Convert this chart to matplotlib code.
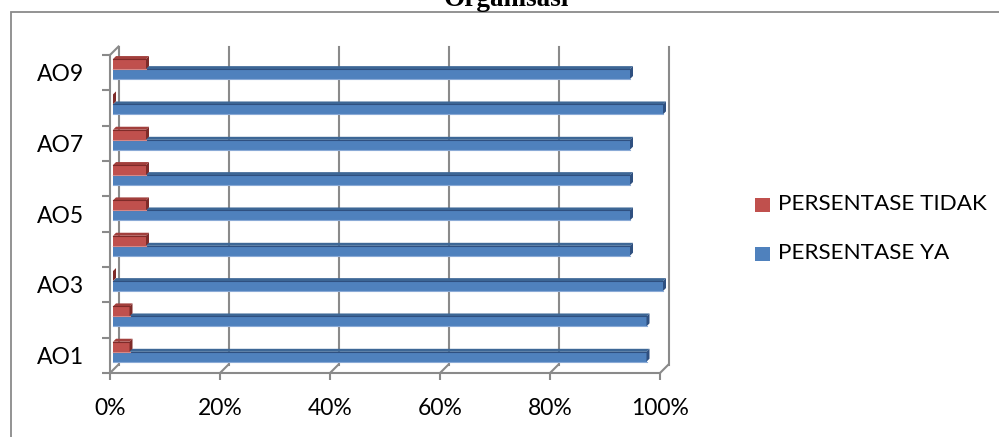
import matplotlib.pyplot as plt
from matplotlib.patches import Polygon, Rectangle

# data
labels = ['AO1', 'AO2', 'AO3', 'AO4', 'AO5', 'AO6', 'AO7', 'AO8', 'AO9']
persen_ya = [97, 97, 100, 94, 94, 94, 94, 100, 94]
persen_tidak = [3, 3, 0, 6, 6, 6, 6, 0, 6]
xticks = [0, 20, 40, 60, 80, 100]
series_names = ['PERSENTASE TIDAK', 'PERSENTASE YA']

plt.rcParams['font.family'] = ['Lato', 'DejaVu Sans']

W, H = 999, 437
fig = plt.figure(figsize=(W / 100, H / 100), dpi=100)

# plot area in pixels (front plane)
left, right, top, bottom = 110, 660, 55, 373
ax = fig.add_axes([left / W, 1 - bottom / H, (right - left) / W, (bottom - top) / H])
n = len(labels)
ax.set_xlim(0, 100)
ax.set_ylim(0, n)

# pixel -> data unit scales
px_x = 100 / (right - left)
px_y = n / (bottom - top)

grey = '#8a8a8a'
wall = 8.5  # depth of the back wall, px

# back wall gridlines with diagonal foot
for x in xticks:
    bx, by = x + wall * px_x, wall * px_y
    ax.plot([bx, bx], [by, n + by], color=grey, lw=1.5, clip_on=False, zorder=1)
    ax.plot([x, bx], [0, by], color=grey, lw=1.5, clip_on=False, zorder=1)
# left wall front edge + top diagonal, floor front edge
ax.plot([0, 0], [0, n], color=grey, lw=1.5, clip_on=False, zorder=1)
ax.plot([0, wall * px_x], [n, n + wall * px_y], color=grey, lw=1.5, clip_on=False, zorder=1)
ax.plot([0, 100], [0, 0], color=grey, lw=1.5, clip_on=False, zorder=1)


def bar3d(yc, value, h, face, top_c, side_c, low_c, off=3.0, depth=3.0):
    ox, oy = off * px_x, off * px_y
    dx, dy = depth * px_x, depth * px_y
    x0, y0 = ox, yc - h / 2 + oy
    x1, y1 = x0 + value, y0 + h
    ax.add_patch(Rectangle((x0, y0), value, h, facecolor=face, edgecolor='none',
                           clip_on=False, zorder=3))
    ax.add_patch(Polygon([(x0, y1), (x1, y1), (x1 + dx, y1 + dy), (x0 + dx, y1 + dy)],
                         facecolor=top_c, edgecolor='none', clip_on=False, zorder=3))
    ax.add_patch(Polygon([(x1, y0), (x1 + dx, y0 + dy), (x1 + dx, y1 + dy), (x1, y1)],
                         facecolor=side_c, edgecolor='none', clip_on=False, zorder=3))
    # darker line along the top of the front face, lighter along the bottom
    ax.plot([x0, x1], [y1, y1], color=side_c, lw=0.8, clip_on=False, zorder=3.5)
    ax.plot([x0, x1], [y0, y0], color=low_c, lw=0.8, clip_on=False, zorder=3.5)


blue, blue_top, blue_side, blue_low = '#4f81bd', '#3d6796', '#2f5080', '#8aaad6'
red, red_top, red_side, red_low = '#c0504d', '#a23f3c', '#7e2b29', '#d88886'
bh = 0.28
for i in range(n):
    c = i + 0.5
    bar3d(c - 0.125, persen_ya[i], bh, blue, blue_top, blue_side, blue_low)
    bar3d(c + 0.16, persen_tidak[i], bh, red, red_top, red_side, red_low)

for s in ax.spines.values():
    s.set_visible(False)

# x axis
ax.set_xticks(xticks)
ax.set_xticklabels([f'{x}%' for x in xticks])
ax.tick_params(axis='x', direction='out', length=5, width=1.5, color=grey,
               labelsize=16.5, pad=13, labelcolor='black')

# y axis: labels on every other category, ticks between categories
ax.set_yticks([i + 0.5 for i in range(0, n, 2)])
ax.set_yticklabels(labels[::2])
ax.set_yticks(range(n + 1), minor=True)
ax.tick_params(axis='y', which='major', length=0, labelsize=16.5, pad=19, labelcolor='black')
ax.tick_params(axis='y', which='minor', direction='out', length=6, width=1.5, color=grey)

# legend
fig.patches.append(Rectangle((755 / W, 1 - 212 / H), 15 / W, 14 / H, transform=fig.transFigure,
                             facecolor=red, edgecolor='none'))
fig.patches.append(Rectangle((755 / W, 1 - 261 / H), 15 / W, 14 / H, transform=fig.transFigure,
                             facecolor=blue, edgecolor='none'))
fig.text(778 / W, 1 - 204 / H, series_names[0], fontsize=16.2, va='center', ha='left')
fig.text(778 / W, 1 - 253 / H, series_names[1], fontsize=16.2, va='center', ha='left')

# chart border
fig.patches.append(Rectangle((11 / W, -0.1), 1.2, 1 - 12 / H + 0.1, transform=fig.transFigure,
                             facecolor='none', edgecolor=grey, lw=1.3))

# title, partly cut off at the top edge
fig.text(506 / W, 1 - 6 / H, 'Organisasi', fontsize=19.5, fontweight='bold',
         family='Liberation Serif', ha='center', va='baseline')

fig.savefig('out.png', dpi=100)
